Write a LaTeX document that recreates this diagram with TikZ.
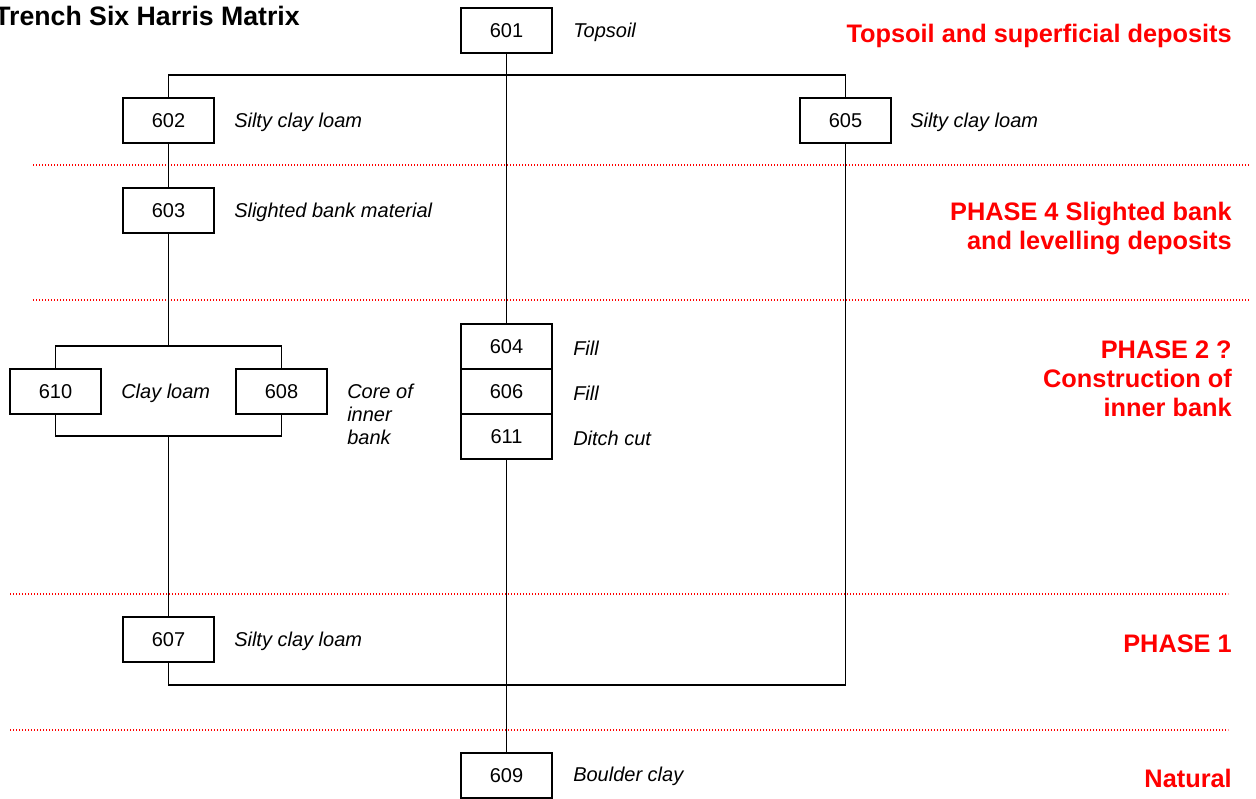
\documentclass[tikz,border=0pt]{standalone}
\usepackage{fontspec}
\setmainfont{Liberation Sans}
\begin{document}
\begin{tikzpicture}[x=0.75pt,y=-0.75pt,
  unit/.style={draw,line width=1.4pt,minimum width=68.25pt,minimum height=33.75pt,inner sep=0pt,font=\fontsize{15pt}{17pt}\selectfont},
  desc/.style={anchor=west,inner sep=0pt,font=\fontsize{15pt}{17.25pt}\selectfont\itshape,align=left},
  phase/.style={anchor=east,inner sep=0pt,text=red,font=\fontsize{19pt}{21.75pt}\selectfont\bfseries,align=right},
  link/.style={line width=1.3pt},
  divider/.style={red,line width=1pt,dash pattern=on 1.1pt off 1.15pt}]
\useasboundingbox (0,0) rectangle (1256,799);

% title
\node[anchor=east,inner sep=0pt,font=\fontsize{20pt}{22pt}\selectfont\bfseries] (title) at (300,16) {Trench Six Harris Matrix};

% phase dividers
\draw[divider] (33,165) -- (1250,165);
\draw[divider] (33,300) -- (1250,300);
\draw[divider] (10,594) -- (1228,594);
\draw[divider] (10,730) -- (1228,730);

% contexts
\node[unit] (n601) at (506.5,30.5) {601};
\node[unit] (n602) at (168.5,120.5) {602};
\node[unit] (n605) at (845.5,120.5) {605};
\node[unit] (n603) at (168.5,210.5) {603};
\node[unit] (n610) at (55.5,391.5) {610};
\node[unit] (n608) at (281.5,391.5) {608};
\node[unit] (n604) at (506.5,346.5) {604};
\node[unit] (n606) at (506.5,391.5) {606};
\node[unit] (n611) at (506.5,436.5) {611};
\node[unit] (n607) at (168.5,639.5) {607};
\node[unit] (n609) at (506.5,775.5) {609};

% descriptions
\node[desc] (d601) at (573,32) {Topsoil};
\node[desc] (d602) at (234,122) {Silty clay loam};
\node[desc] (d605) at (910,122) {Silty clay loam};
\node[desc] (d603) at (234,212) {Slighted bank material};
\node[desc] (d610) at (121,393) {Clay loam};
\node[desc,anchor=north west] (d608) at (347,384) {Core of\\inner\\bank};
\node[desc] (d604) at (573,348) {Fill};
\node[desc] (d606) at (573,393) {Fill};
\node[desc] (d611) at (573,438) {Ditch cut};
\node[desc] (d607) at (234,641) {Silty clay loam};
\node[desc] (d609) at (573,776) {Boulder clay};

% phase labels
\node[phase] (p5) at (1232,36) {Topsoil and superficial deposits};
\node[phase] (p4) at (1232,229) {PHASE 4 Slighted bank\\and levelling deposits};
\node[phase] (p2) at (1232,379) {PHASE 2 ?\\Construction of\\inner bank};
\node[phase] (p1) at (1232,644) {PHASE 1};
\node[phase] (p0) at (1232,778) {Natural};

% junction points
\coordinate (topL) at (168.5,75);
\coordinate (topR) at (845.5,75);
\coordinate (splitT) at (168.5,346);
\coordinate (splitL) at (55.5,346);
\coordinate (splitR) at (281.5,346);
\coordinate (joinL) at (55.5,436);
\coordinate (joinR) at (281.5,436);
\coordinate (joinM) at (168.5,436);
\coordinate (botL) at (168.5,685);
\coordinate (botR) at (845.5,685);

% stratigraphic links
\draw[link] (n601.south) -- (n604.north);
\draw[link] (n602.north) -- (topL) -- (topR) -- (n605.north);
\draw[link] (n602.south) -- (n603.north);
\draw[link] (n603.south) -- (splitT);
\draw[link] (n610.north) -- (splitL) -- (splitR) -- (n608.north);
\draw[link] (n610.south) -- (joinL) -- (joinR) -- (n608.south);
\draw[link] (joinM) -- (n607.north);
\draw[link] (n607.south) -- (botL) -- (botR) -- (n605.south);
\draw[link] (n611.south) -- (n609.north);
\end{tikzpicture}
\end{document}
